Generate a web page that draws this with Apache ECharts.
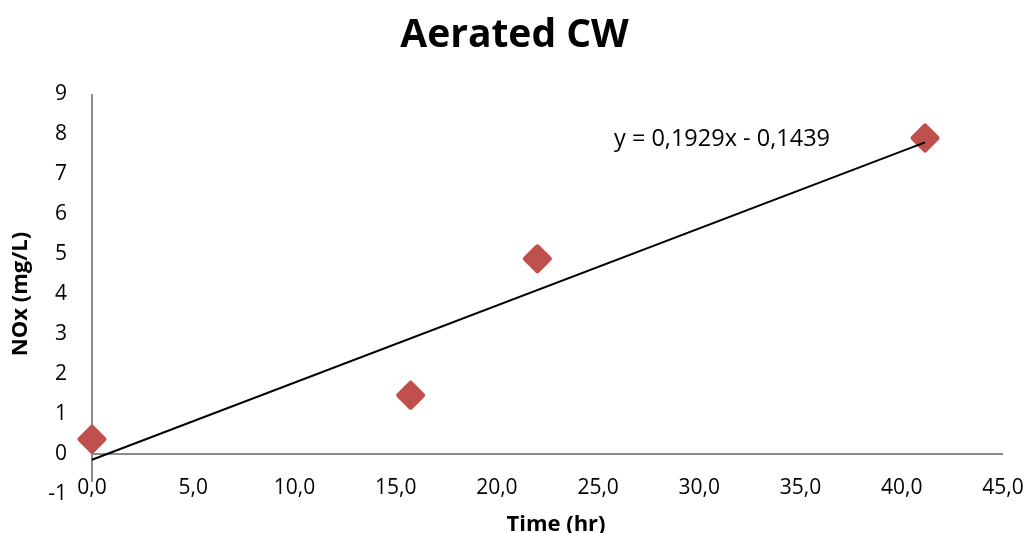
<!DOCTYPE html>
<html><head><meta charset="utf-8">
<script src="https://cdn.jsdelivr.net/npm/echarts@6/dist/echarts.min.js"></script>
<style>html,body{margin:0;padding:0;background:#fff}#c{width:1029px;height:533px}</style>
</head><body><div id="c"></div>
<script>
const timeHr = [0, 15.74, 22.0, 41.15];
const noxMgL = [0.37, 1.47, 4.88, 7.90];
const trendX = [0, 41.15];
const trendY = [-0.1439, 7.79];
const xTicks = [0, 45, 5];
const yTicks = [-1, 9, 1];
const titleText = 'Aerated CW';
const xName = 'Time (hr)';
const yName = 'NOx (mg/L)';
const eqText = 'y = 0,1929x - 0,1439';

const FONT = '"Open Sans", "Liberation Sans", sans-serif';
const chart = echarts.init(document.getElementById('c'));
const fmt = v => v.toFixed(1).replace('.', ',');
chart.setOption({
  animation: false,
  backgroundColor: '#fff',
  title: { text: titleText, left: 'center', top: 11,
    textStyle: { fontFamily: FONT, fontWeight: 'bold', fontSize: 39, color: '#000' } },
  grid: { left: 92, right: 26, top: 94, bottom: 39, outerBoundsMode: 'none', containLabel: false },
  xAxis: { type: 'value', min: xTicks[0], max: xTicks[1], interval: xTicks[2],
    axisLine: { show: false }, axisTick: { show: false }, splitLine: { show: false },
    axisLabel: { formatter: fmt, margin: -16, fontFamily: FONT, fontSize: 21, color: '#000' },
    name: xName, nameLocation: 'middle', nameGap: 20,
    nameTextStyle: { fontFamily: FONT, fontWeight: 'bold', fontSize: 22, color: '#000', padding: [0, 0, 0, 17] } },
  yAxis: { type: 'value', min: yTicks[0], max: yTicks[1], interval: yTicks[2],
    axisLine: { show: false }, axisTick: { show: false }, splitLine: { show: false },
    axisLabel: { margin: 25, fontFamily: FONT, fontSize: 21, color: '#000' },
    name: yName, nameLocation: 'middle', nameGap: 60,
    nameTextStyle: { fontFamily: FONT, fontWeight: 'bold', fontSize: 22, color: '#000' } },
  graphic: [{ type: 'text', left: 614, top: 127,
    style: { text: eqText, fontFamily: FONT, fontSize: 23.5, fill: '#000' } }],
  series: [
    { type: 'line', data: [[xTicks[0], 0], [xTicks[1], 0]], symbol: 'none', silent: true,
      lineStyle: { color: '#8c8c8c', width: 2 }, z: 1 },
    { type: 'line', data: [[0, -0.7], [0, yTicks[1]]], symbol: 'none', silent: true,
      lineStyle: { color: '#8c8c8c', width: 2 }, z: 1 },
    { type: 'scatter', data: timeHr.map((x, i) => [x, noxMgL[i]]), symbol: 'diamond', symbolSize: 24,
      itemStyle: { color: '#C0504D', borderColor: '#C0504D', borderWidth: 5, borderJoin: 'round', opacity: 1 }, z: 3 },
    { type: 'line', data: trendX.map((x, i) => [x, trendY[i]]), symbol: 'none',
      lineStyle: { color: '#000', width: 2 }, z: 4 }
  ]
});
</script></body></html>
